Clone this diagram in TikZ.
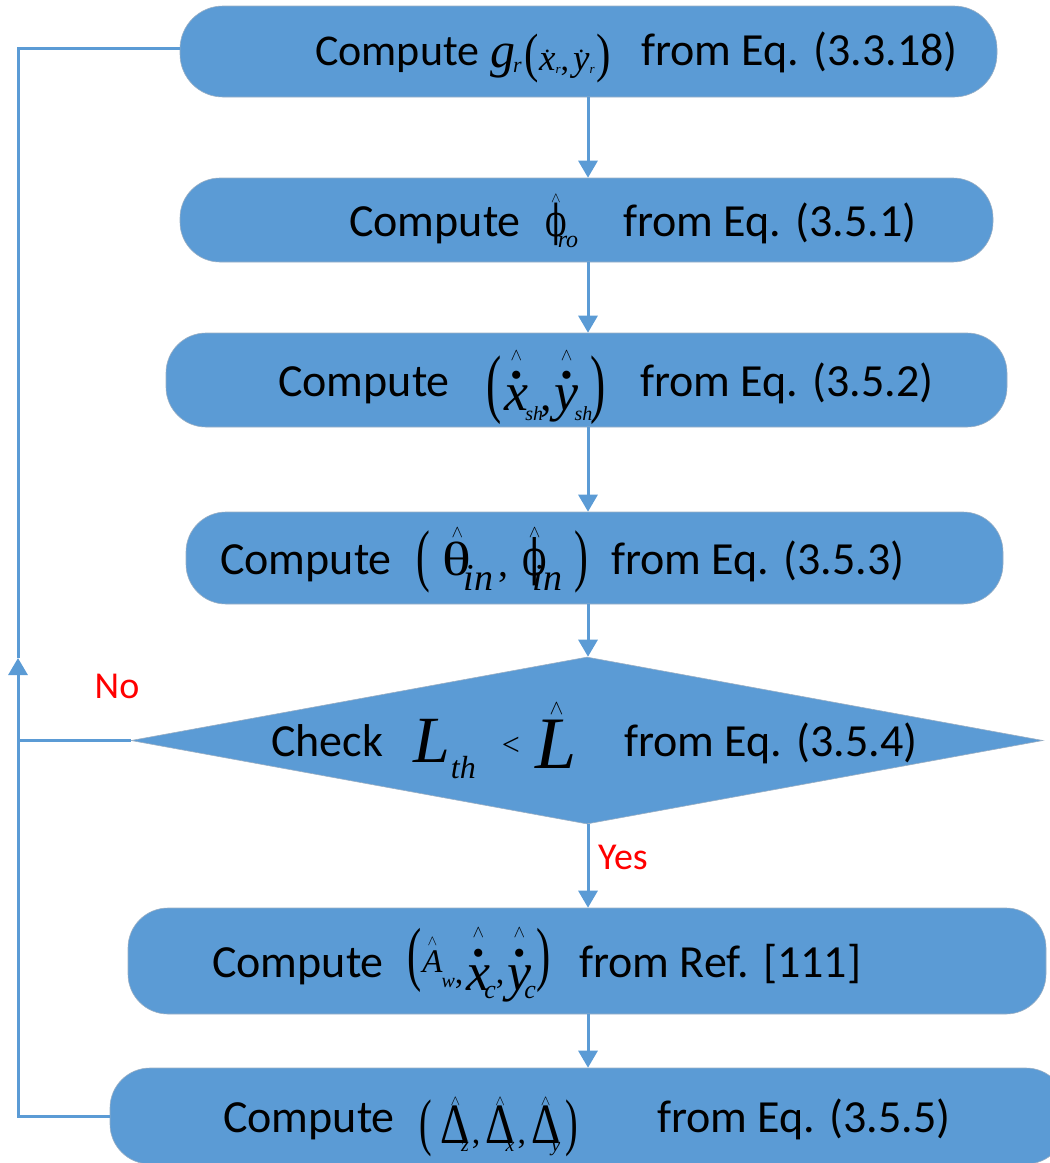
\documentclass[tikz,border=0pt]{standalone}
\usepackage{fontspec}
\usepackage{graphicx}
\setmainfont{Carlito}
\newfontfamily\tn{Liberation Serif}
\newfontfamily\dvs{DejaVu Serif}
\usetikzlibrary{arrows.meta,shapes.geometric}
\definecolor{boxblue}{HTML}{5B9BD5}
\definecolor{boxedge}{HTML}{9AAFC4}
\newcommand\fs[1]{\fontsize{#1}{#1}\selectfont}
\newbox\accbox
\newcommand\accover[3]{\leavevmode\setbox\accbox\hbox{#3}\rlap{\hbox to\wd\accbox{\hss\raisebox{#1}{#2}\hss}}\box\accbox}
\newcommand\hatw[1]{{\fs{#1}$\wedge$}}
\newcommand\bdot{{\tn\upshape\fs{34}\textbullet}}
\newcommand\pr[2]{\scalebox{0.6}[1]{\tn\upshape\fs{#1}#2}}
\newcommand\lo[2]{\raisebox{-#1}{#2}}
\newcommand\vphi[1]{\scalebox{0.72}[1]{\dvs\upshape\fs{#1}ϕ}}
\tikzset{
  proc/.style={draw=boxedge, line width=0.6pt, fill=boxblue, rounded corners=40pt, inner sep=0pt},
  decide/.style={diamond, draw=boxedge, line width=0.6pt, fill=boxblue, inner sep=0pt},
  flow/.style={draw=boxblue, line width=3pt, -{Triangle[width=19pt,length=17pt]}},
  link/.style={draw=boxblue, line width=3pt},
  txt/.style={anchor=base west, inner sep=0pt, font=\fs{46}},
  mth/.style={anchor=base west, inner sep=0pt},
  lbl/.style={text=red, font=\fs{38}, inner sep=0pt}
}
\begin{document}
\begin{tikzpicture}[x=1pt,y=-1pt]
\useasboundingbox (0,0) rectangle (1050,1163);
% shapes
\node[proc, minimum width=817pt, minimum height=91pt, rounded corners=43pt] (b1) at (588.5,51.5) {};
\node[proc, minimum width=813pt, minimum height=84pt] (b2) at (586.5,220) {};
\node[proc, minimum width=841pt, minimum height=94pt] (b3) at (586.5,380) {};
\node[proc, minimum width=817pt, minimum height=92pt] (b4) at (594.5,558) {};
\node[decide, minimum width=912pt, minimum height=167pt] (dia) at (587,740.5) {};
\node[proc, minimum width=918pt, minimum height=106pt] (b6) at (587,961) {};
\node[proc, minimum width=956pt, minimum height=96pt] (b7) at (588,1116) {};
% box 1
\node[txt, font=\fs{44}] (t1a) at (315,65) {Compute};
\node[mth] (t1b) at (490,65) {\tn\itshape
  \lo{2pt}{\fs{50}g}\kern-2pt\lo{7pt}{\fs{22}r}\kern3pt\lo{6pt}{\scalebox{0.8}[1]{\upshape\fs{54}(}}%
  \lo{5pt}{\accover{18pt}{\fs{24}\upshape.}{\fs{37}x}}\lo{8pt}{\fs{13}r}\lo{5pt}{\fs{34}\upshape,}\kern4pt%
  \lo{5pt}{\accover{18pt}{\fs{24}\upshape.}{\fs{37}y}}\lo{8pt}{\fs{13}r}\kern2pt\lo{6pt}{\scalebox{0.8}[1]{\upshape\fs{54})}}};
\node[txt] (t1c) at (641,65) {from Eq. (3.3.18)};
% box 2
\node[txt] (t2a) at (349,236) {Compute};
\node[mth] (t2b) at (545,236) {\accover{34pt}{\hatw{14}}{\vphi{44}}\kern-9pt\lo{11pt}{\tn\itshape\fs{24}ro}};
\node[txt] (t2c) at (623,236) {from Eq. (3.5.1)};
% box 3
\node[txt] (t3a) at (278,396) {Compute};
\node[mth] (t3b) at (486,396) {\tn\itshape
  \lo{12pt}{\pr{76}{(}}\kern3pt%
  \lo{14pt}{\accover{24pt}{\bdot}{\accover{50pt}{\hatw{16}}{\fs{54}x}}}\kern-3pt\lo{24pt}{\fs{20}sh}%
  \kern-3pt\lo{14pt}{\upshape\fs{46},}\kern3pt%
  \lo{14pt}{\accover{24pt}{\bdot}{\accover{50pt}{\hatw{16}}{\fs{54}y}}}\kern-4pt\lo{24pt}{\fs{20}sh}%
  \kern-2pt\lo{12pt}{\pr{76}{)}}};
\node[txt] (t3c) at (640,396) {from Eq. (3.5.2)};
% box 4
\node[txt] (t4a) at (220,574) {Compute};
\node[mth] (t4b) at (416,574) {\tn
  \lo{4pt}{\pr{69}{(}}\kern13pt%
  \lo{1pt}{\accover{38pt}{\hatw{18}}{\scalebox{1.25}[1]{\fs{48}θ}}}\kern-8pt\lo{16pt}{\itshape\fs{38}in}%
  \kern5pt\lo{2pt}{\fs{40},}\kern14pt%
  \lo{1pt}{\accover{38pt}{\hatw{18}}{\vphi{50}}}\kern-14pt\lo{16pt}{\itshape\fs{38}in}%
  \kern12pt\lo{4pt}{\pr{69}{)}}};
\node[txt] (t4c) at (611,574) {from Eq. (3.5.3)};
% decision
\node[txt] (t5a) at (271,756) {Check};
\node[mth] (t5b) at (413,756) {\tn\itshape
  \lo{6pt}{\fs{66}L}\kern1pt\lo{22pt}{\fs{32}th}\kern26pt\lo{-1pt}{\upshape\fs{32}<}\kern16pt%
  \lo{12pt}{\accover{54pt}{\hatw{22}}{\fs{74}L}}};
\node[txt] (t5c) at (624,756) {from Eq. (3.5.4)};
% box 6
\node[txt] (t6a) at (212,977) {Compute};
\node[mth] (t6b) at (407,977) {\tn\itshape
  \lo{0pt}{\pr{71}{(}}\kern1pt%
  \lo{-5pt}{\accover{27pt}{\hatw{14}}{\fs{33}A}}\kern-1pt\lo{10pt}{\fs{20}w}\lo{6pt}{\upshape\fs{34},}\kern3pt%
  \lo{13pt}{\accover{26pt}{\bdot}{\accover{53pt}{\hatw{16}}{\fs{54}x}}}\kern-6pt\lo{21pt}{\fs{26}c}%
  \lo{6pt}{\upshape\fs{34},}\kern3pt%
  \lo{13pt}{\accover{26pt}{\bdot}{\accover{53pt}{\hatw{16}}{\fs{54}y}}}\kern-7pt\lo{21pt}{\fs{26}c}%
  \kern1pt\lo{0pt}{\pr{71}{)}}};
\node[txt] (t6c) at (579,977) {from Ref. [111]};
% box 7
\node[txt] (t7a) at (223,1132) {Compute};
\node[mth] (t7b) at (419,1132) {\tn
  \lo{11pt}{\pr{63}{(}}\kern9pt%
  \lo{11pt}{\accover{38pt}{\hatw{14}}{\scalebox{0.8}[1]{\fs{57}Δ}}}\kern-9pt\lo{19pt}{\itshape\fs{20}z}%
  \kern3pt\lo{11pt}{\fs{34},}\kern5pt%
  \lo{11pt}{\accover{38pt}{\hatw{14}}{\scalebox{0.8}[1]{\fs{57}Δ}}}\kern-9pt\lo{19pt}{\itshape\fs{20}x}%
  \kern3pt\lo{11pt}{\fs{34},}\kern5pt%
  \lo{11pt}{\accover{38pt}{\hatw{14}}{\scalebox{0.8}[1]{\fs{57}Δ}}}\kern-9pt\lo{19pt}{\itshape\fs{20}y}%
  \kern5pt\lo{11pt}{\pr{63}{)}}};
\node[txt] (t7c) at (657,1132) {from Eq. (3.5.5)};
% labels
\node[lbl] (no) at (117,686) {No};
\node[lbl] (yes) at (623,857) {Yes};
% connectors
\coordinate (ax) at (588,0);
\draw[flow] (ax |- b1.south) -- (ax |- b2.north);
\draw[flow] (ax |- b2.south) -- (ax |- b3.north);
\draw[flow] (ax |- b3.south) -- (ax |- b4.north);
\draw[flow] (ax |- b4.south) -- (ax |- dia.north);
\draw[flow] (ax |- dia.south) -- (ax |- b6.north);
\draw[flow] (ax |- b6.south) -- (ax |- b7.north);
\coordinate (lx) at (18,658);
\draw[flow] (b7.west) -| (lx);
\draw[link] (lx) |- ([yshift=3pt]b1.west);
\draw[link] (dia.west) -- (dia.west -| lx);
\end{tikzpicture}
\end{document}
